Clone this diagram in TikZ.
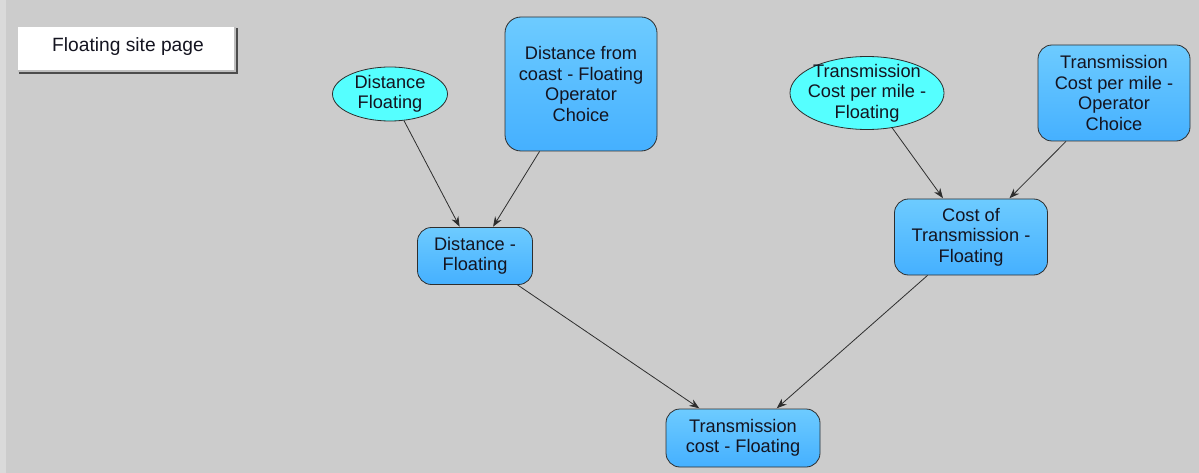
\documentclass[tikz,border=0pt]{standalone}
\usepackage{fontspec}
\setmainfont{Liberation Sans}
\usetikzlibrary{shapes.geometric,arrows.meta}
\definecolor{canvas}{HTML}{CCCCCC}
\definecolor{strip}{HTML}{DADADA}
\definecolor{edgegray}{HTML}{2E2E2E}
\definecolor{inkcol}{HTML}{141420}
\definecolor{cyanfill}{HTML}{55FFFF}
\definecolor{bluetop}{HTML}{6DCBFF}
\definecolor{bluebot}{HTML}{45B0FF}
\tikzset{
  lbl/.style={font=\fontsize{18.2}{20.5}\selectfont, text=inkcol, align=center, inner sep=0pt},
  chance/.style={lbl, ellipse, inner sep=-7pt, draw=edgegray, line width=0.8pt, fill=cyanfill},
  calcbox/.style={lbl, rectangle, rounded corners=14pt, draw=edgegray, line width=0.8pt,
    top color=bluetop, bottom color=bluebot},
  link/.style={draw=edgegray, line width=0.8pt, -{Stealth[length=10pt,width=7.5pt]}, shorten >=0.5pt}
}
\begin{document}
\begin{tikzpicture}[x=1pt,y=-1pt]
  % canvas
  \fill[canvas] (0,0) rectangle (1199,473);
  \fill[strip] (0,0) rectangle (6,473);
  \useasboundingbox (0,0) rectangle (1199,473);

  % page button with bevel
  \fill[gray!60!black] (19,28) rectangle (238,74);
  \fill[gray!50] (18,27) rectangle (236,72);
  \fill[white] (18,27) rectangle (234,70);
  \node[lbl, font=\fontsize{19.2}{22}\selectfont] (page) at (128,47) {Floating site page};

  % chance nodes
  \node[chance, minimum width=115pt, minimum height=54pt] (distf) at (390,94) {Distance\\Floating};
  \node[chance, minimum width=154pt, minimum height=73pt] (tcpm) at (867,93) {Transmission\\Cost per mile -\\Floating};

  % decision / computed nodes
  \node[calcbox, minimum width=152pt, minimum height=134pt, rounded corners=16pt] (dcoast) at (581,84)
    {Distance from\\coast - Floating\\Operator\\Choice};
  \node[calcbox, minimum width=152pt, minimum height=96pt] (tcop) at (1114,93)
    {Transmission\\Cost per mile -\\Operator\\Choice};
  \node[calcbox, minimum width=115pt, minimum height=57pt] (dist) at (475,256)
    {Distance -\\Floating};
  \node[calcbox, minimum width=153pt, minimum height=76pt] (cost) at (971,237)
    {Cost of\\Transmission -\\Floating};
  \node[calcbox, minimum width=154pt, minimum height=58pt] (total) at (743,438)
    {Transmission\\cost - Floating};

  % influences
  \draw[link] (distf) -- (dist);
  \draw[link] (dcoast) -- (dist);
  \draw[link] (tcpm) -- (cost);
  \draw[link] (tcop) -- (cost);
  \draw[link] (dist) -- (total);
  \draw[link] (cost) -- (total);
\end{tikzpicture}
\end{document}
